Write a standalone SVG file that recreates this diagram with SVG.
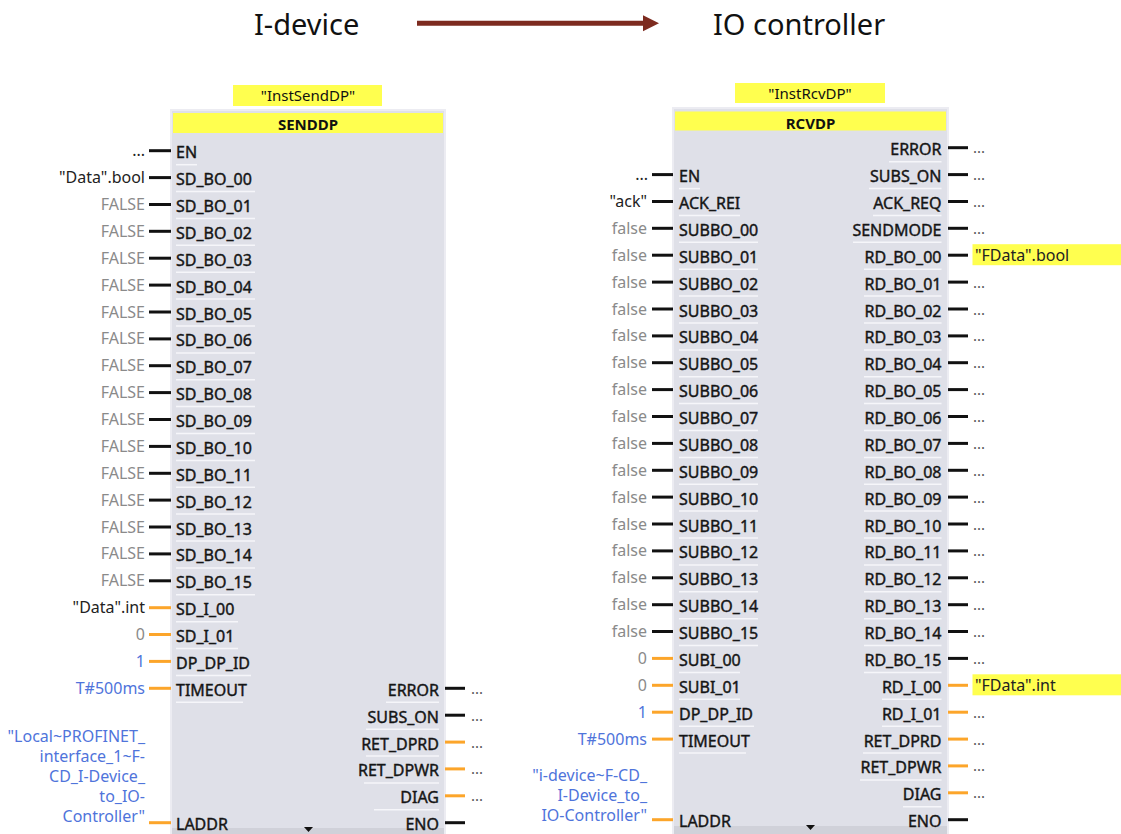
<svg xmlns="http://www.w3.org/2000/svg" width="1121" height="834" viewBox="0 0 1121 834">
<style>
text{font-family:"Noto Sans","Liberation Sans",sans-serif}
.title{font-size:29px;fill:#111}
.lbl{font-size:16px;fill:#151515;stroke:#151515;stroke-width:0.4}
.end{text-anchor:end}
.val{font-size:16px;text-anchor:end}
.dots{font-size:15px;fill:#555}
.gray{fill:#8a8a8a}
.blue{fill:#4f74db}
.dark{fill:#222}
.pb{stroke:#111;stroke-width:3}
.po{stroke:#fca52a;stroke-width:3}
.ul{stroke:#f6f6fa;stroke-width:1.5}
.box{fill:#dfe0e8;stroke:#ececf2;stroke-width:2}
.hdr{fill:#ffff4f}
.hdrt{font-size:15px;font-weight:bold;fill:#111;text-anchor:middle}
.inst{font-size:15px;fill:#111;text-anchor:middle}
.hl{fill:#ffff4f}
.strip{fill:#d0d1d9}
</style>

<g id="title-idevice"><text class="title" x="254" y="35">I-device</text></g>
<g id="title-iocontroller"><text class="title" x="713" y="35">IO controller</text></g>

<g id="connectors">
<line x1="417" y1="23.3" x2="645" y2="23.3" stroke="#7d2b1f" stroke-width="5"/>
<polygon points="643,15.3 659,23.3 643,31.3" fill="#7d2b1f"/>
</g>

<g id="senddp">
<rect class="hl" x="233" y="85" width="149" height="21"/>
<text class="inst" x="308" y="101">"InstSendDP"</text>
<rect class="box" x="171" y="110" width="274" height="730"/>
<rect class="hdr" x="173" y="113" width="270" height="20"/>
<text class="hdrt" x="308" y="130">SENDDP</text>
<rect class="strip" x="172" y="828" width="272" height="6"/>
<polygon points="304,827 313,827 308.5,832" fill="#111"/>

<g transform="translate(0,150.7)"><line class="pb" x1="149" y1="0" x2="171" y2="0"/><line class="ul" x1="176" y1="14" x2="197" y2="14"/><text class="lbl" x="176" y="7.5">EN</text><text class="val dark" x="145" y="5.5">...</text></g>
<g transform="translate(0,177.6)"><line class="pb" x1="149" y1="0" x2="171" y2="0"/><line class="ul" x1="176" y1="14" x2="255" y2="14"/><text class="lbl" x="176" y="7.5">SD_BO_00</text><text class="val dark" x="145" y="5.5">"Data".bool</text></g>
<g transform="translate(0,204.5)"><line class="pb" x1="149" y1="0" x2="171" y2="0"/><line class="ul" x1="176" y1="14" x2="255" y2="14"/><text class="lbl" x="176" y="7.5">SD_BO_01</text><text class="val gray" x="145" y="5.5">FALSE</text></g>
<g transform="translate(0,231.3)"><line class="pb" x1="149" y1="0" x2="171" y2="0"/><line class="ul" x1="176" y1="14" x2="255" y2="14"/><text class="lbl" x="176" y="7.5">SD_BO_02</text><text class="val gray" x="145" y="5.5">FALSE</text></g>
<g transform="translate(0,258.2)"><line class="pb" x1="149" y1="0" x2="171" y2="0"/><line class="ul" x1="176" y1="14" x2="255" y2="14"/><text class="lbl" x="176" y="7.5">SD_BO_03</text><text class="val gray" x="145" y="5.5">FALSE</text></g>
<g transform="translate(0,285.1)"><line class="pb" x1="149" y1="0" x2="171" y2="0"/><line class="ul" x1="176" y1="14" x2="255" y2="14"/><text class="lbl" x="176" y="7.5">SD_BO_04</text><text class="val gray" x="145" y="5.5">FALSE</text></g>
<g transform="translate(0,312)"><line class="pb" x1="149" y1="0" x2="171" y2="0"/><line class="ul" x1="176" y1="14" x2="255" y2="14"/><text class="lbl" x="176" y="7.5">SD_BO_05</text><text class="val gray" x="145" y="5.5">FALSE</text></g>
<g transform="translate(0,338.9)"><line class="pb" x1="149" y1="0" x2="171" y2="0"/><line class="ul" x1="176" y1="14" x2="255" y2="14"/><text class="lbl" x="176" y="7.5">SD_BO_06</text><text class="val gray" x="145" y="5.5">FALSE</text></g>
<g transform="translate(0,365.7)"><line class="pb" x1="149" y1="0" x2="171" y2="0"/><line class="ul" x1="176" y1="14" x2="255" y2="14"/><text class="lbl" x="176" y="7.5">SD_BO_07</text><text class="val gray" x="145" y="5.5">FALSE</text></g>
<g transform="translate(0,392.6)"><line class="pb" x1="149" y1="0" x2="171" y2="0"/><line class="ul" x1="176" y1="14" x2="255" y2="14"/><text class="lbl" x="176" y="7.5">SD_BO_08</text><text class="val gray" x="145" y="5.5">FALSE</text></g>
<g transform="translate(0,419.5)"><line class="pb" x1="149" y1="0" x2="171" y2="0"/><line class="ul" x1="176" y1="14" x2="255" y2="14"/><text class="lbl" x="176" y="7.5">SD_BO_09</text><text class="val gray" x="145" y="5.5">FALSE</text></g>
<g transform="translate(0,446.4)"><line class="pb" x1="149" y1="0" x2="171" y2="0"/><line class="ul" x1="176" y1="14" x2="255" y2="14"/><text class="lbl" x="176" y="7.5">SD_BO_10</text><text class="val gray" x="145" y="5.5">FALSE</text></g>
<g transform="translate(0,473.3)"><line class="pb" x1="149" y1="0" x2="171" y2="0"/><line class="ul" x1="176" y1="14" x2="255" y2="14"/><text class="lbl" x="176" y="7.5">SD_BO_11</text><text class="val gray" x="145" y="5.5">FALSE</text></g>
<g transform="translate(0,500.1)"><line class="pb" x1="149" y1="0" x2="171" y2="0"/><line class="ul" x1="176" y1="14" x2="255" y2="14"/><text class="lbl" x="176" y="7.5">SD_BO_12</text><text class="val gray" x="145" y="5.5">FALSE</text></g>
<g transform="translate(0,527)"><line class="pb" x1="149" y1="0" x2="171" y2="0"/><line class="ul" x1="176" y1="14" x2="255" y2="14"/><text class="lbl" x="176" y="7.5">SD_BO_13</text><text class="val gray" x="145" y="5.5">FALSE</text></g>
<g transform="translate(0,553.9)"><line class="pb" x1="149" y1="0" x2="171" y2="0"/><line class="ul" x1="176" y1="14" x2="255" y2="14"/><text class="lbl" x="176" y="7.5">SD_BO_14</text><text class="val gray" x="145" y="5.5">FALSE</text></g>
<g transform="translate(0,580.8)"><line class="pb" x1="149" y1="0" x2="171" y2="0"/><line class="ul" x1="176" y1="14" x2="255" y2="14"/><text class="lbl" x="176" y="7.5">SD_BO_15</text><text class="val gray" x="145" y="5.5">FALSE</text></g>
<g transform="translate(0,607.7)"><line class="po" x1="149" y1="0" x2="171" y2="0"/><line class="ul" x1="176" y1="14" x2="238" y2="14"/><text class="lbl" x="176" y="7.5">SD_I_00</text><text class="val dark" x="145" y="5.5">"Data".int</text></g>
<g transform="translate(0,634.5)"><line class="po" x1="149" y1="0" x2="171" y2="0"/><line class="ul" x1="176" y1="14" x2="238" y2="14"/><text class="lbl" x="176" y="7.5">SD_I_01</text><text class="val gray" x="145" y="5.5">0</text></g>
<g transform="translate(0,661.4)"><line class="po" x1="149" y1="0" x2="171" y2="0"/><line class="ul" x1="176" y1="14" x2="251" y2="14"/><text class="lbl" x="176" y="7.5">DP_DP_ID</text><text class="val blue" x="145" y="5.5">1</text></g>
<g transform="translate(0,688.3)"><line class="po" x1="149" y1="0" x2="171" y2="0"/><line class="ul" x1="176" y1="14" x2="243" y2="14"/><text class="lbl" x="176" y="7.5">TIMEOUT</text><text class="val blue" x="145" y="5.5">T#500ms</text></g>
<g transform="translate(0,822.7)"><line class="po" x1="149" y1="0" x2="171" y2="0"/><text class="lbl" x="176" y="7.5">LADDR</text></g>
<text class="val blue" x="145"><tspan x="145" y="742">"Local~PROFINET_</tspan><tspan x="145" y="762">interface_1~F-</tspan><tspan x="145" y="782">CD_I-Device_</tspan><tspan x="145" y="802">to_IO-</tspan><tspan x="145" y="822">Controller"</tspan></text>

<g transform="translate(0,688.3)"><line class="pb" x1="445" y1="0" x2="465" y2="0"/><line class="ul" x1="386" y1="14" x2="439" y2="14"/><text class="lbl end" x="439" y="7.5">ERROR</text><text class="dots" x="471" y="5.5">...</text></g>
<g transform="translate(0,715.2)"><line class="pb" x1="445" y1="0" x2="465" y2="0"/><line class="ul" x1="366" y1="14" x2="439" y2="14"/><text class="lbl end" x="439" y="7.5">SUBS_ON</text><text class="dots" x="471" y="5.5">...</text></g>
<g transform="translate(0,742.1)"><line class="po" x1="445" y1="0" x2="465" y2="0"/><line class="ul" x1="366" y1="14" x2="439" y2="14"/><text class="lbl end" x="439" y="7.5">RET_DPRD</text><text class="dots" x="471" y="5.5">...</text></g>
<g transform="translate(0,768.9)"><line class="po" x1="445" y1="0" x2="465" y2="0"/><line class="ul" x1="364" y1="14" x2="439" y2="14"/><text class="lbl end" x="439" y="7.5">RET_DPWR</text><text class="dots" x="471" y="5.5">...</text></g>
<g transform="translate(0,795.8)"><line class="po" x1="445" y1="0" x2="465" y2="0"/><line class="ul" x1="374" y1="14" x2="439" y2="14"/><text class="lbl end" x="439" y="7.5">DIAG</text><text class="dots" x="471" y="5.5">...</text></g>
<g transform="translate(0,822.7)"><line class="pb" x1="445" y1="0" x2="465" y2="0"/><text class="lbl end" x="439" y="7.5">ENO</text></g>
</g>

<g id="rcvdp">
<rect class="hl" x="735" y="83" width="150" height="20"/>
<text class="inst" x="810" y="99">"InstRcvDP"</text>
<rect class="box" x="673" y="108" width="275" height="730"/>
<rect class="hdr" x="675" y="111.5" width="271" height="19"/>
<text class="hdrt" x="810.5" y="128.5">RCVDP</text>
<rect class="strip" x="674" y="826" width="273" height="8"/>
<polygon points="806,825 815,825 810.5,830" fill="#111"/>

<g transform="translate(0,174.6)"><line class="pb" x1="652" y1="0" x2="673" y2="0"/><line class="ul" x1="679" y1="14" x2="700" y2="14"/><text class="lbl" x="679" y="7.5">EN</text><text class="val dark" x="648" y="5.5">...</text></g>
<g transform="translate(0,201.5)"><line class="pb" x1="652" y1="0" x2="673" y2="0"/><line class="ul" x1="679" y1="14" x2="740" y2="14"/><text class="lbl" x="679" y="7.5">ACK_REI</text><text class="val dark" x="647" y="5.5">"ack"</text></g>
<g transform="translate(0,228.3)"><line class="pb" x1="652" y1="0" x2="673" y2="0"/><line class="ul" x1="679" y1="14" x2="758" y2="14"/><text class="lbl" x="679" y="7.5">SUBBO_00</text><text class="val gray" x="647" y="5.5">false</text></g>
<g transform="translate(0,255.2)"><line class="pb" x1="652" y1="0" x2="673" y2="0"/><line class="ul" x1="679" y1="14" x2="758" y2="14"/><text class="lbl" x="679" y="7.5">SUBBO_01</text><text class="val gray" x="647" y="5.5">false</text></g>
<g transform="translate(0,282.1)"><line class="pb" x1="652" y1="0" x2="673" y2="0"/><line class="ul" x1="679" y1="14" x2="758" y2="14"/><text class="lbl" x="679" y="7.5">SUBBO_02</text><text class="val gray" x="647" y="5.5">false</text></g>
<g transform="translate(0,309)"><line class="pb" x1="652" y1="0" x2="673" y2="0"/><line class="ul" x1="679" y1="14" x2="758" y2="14"/><text class="lbl" x="679" y="7.5">SUBBO_03</text><text class="val gray" x="647" y="5.5">false</text></g>
<g transform="translate(0,335.9)"><line class="pb" x1="652" y1="0" x2="673" y2="0"/><line class="ul" x1="679" y1="14" x2="758" y2="14"/><text class="lbl" x="679" y="7.5">SUBBO_04</text><text class="val gray" x="647" y="5.5">false</text></g>
<g transform="translate(0,362.7)"><line class="pb" x1="652" y1="0" x2="673" y2="0"/><line class="ul" x1="679" y1="14" x2="758" y2="14"/><text class="lbl" x="679" y="7.5">SUBBO_05</text><text class="val gray" x="647" y="5.5">false</text></g>
<g transform="translate(0,389.6)"><line class="pb" x1="652" y1="0" x2="673" y2="0"/><line class="ul" x1="679" y1="14" x2="758" y2="14"/><text class="lbl" x="679" y="7.5">SUBBO_06</text><text class="val gray" x="647" y="5.5">false</text></g>
<g transform="translate(0,416.5)"><line class="pb" x1="652" y1="0" x2="673" y2="0"/><line class="ul" x1="679" y1="14" x2="758" y2="14"/><text class="lbl" x="679" y="7.5">SUBBO_07</text><text class="val gray" x="647" y="5.5">false</text></g>
<g transform="translate(0,443.4)"><line class="pb" x1="652" y1="0" x2="673" y2="0"/><line class="ul" x1="679" y1="14" x2="758" y2="14"/><text class="lbl" x="679" y="7.5">SUBBO_08</text><text class="val gray" x="647" y="5.5">false</text></g>
<g transform="translate(0,470.3)"><line class="pb" x1="652" y1="0" x2="673" y2="0"/><line class="ul" x1="679" y1="14" x2="758" y2="14"/><text class="lbl" x="679" y="7.5">SUBBO_09</text><text class="val gray" x="647" y="5.5">false</text></g>
<g transform="translate(0,497.1)"><line class="pb" x1="652" y1="0" x2="673" y2="0"/><line class="ul" x1="679" y1="14" x2="758" y2="14"/><text class="lbl" x="679" y="7.5">SUBBO_10</text><text class="val gray" x="647" y="5.5">false</text></g>
<g transform="translate(0,524)"><line class="pb" x1="652" y1="0" x2="673" y2="0"/><line class="ul" x1="679" y1="14" x2="758" y2="14"/><text class="lbl" x="679" y="7.5">SUBBO_11</text><text class="val gray" x="647" y="5.5">false</text></g>
<g transform="translate(0,550.9)"><line class="pb" x1="652" y1="0" x2="673" y2="0"/><line class="ul" x1="679" y1="14" x2="758" y2="14"/><text class="lbl" x="679" y="7.5">SUBBO_12</text><text class="val gray" x="647" y="5.5">false</text></g>
<g transform="translate(0,577.8)"><line class="pb" x1="652" y1="0" x2="673" y2="0"/><line class="ul" x1="679" y1="14" x2="758" y2="14"/><text class="lbl" x="679" y="7.5">SUBBO_13</text><text class="val gray" x="647" y="5.5">false</text></g>
<g transform="translate(0,604.7)"><line class="pb" x1="652" y1="0" x2="673" y2="0"/><line class="ul" x1="679" y1="14" x2="758" y2="14"/><text class="lbl" x="679" y="7.5">SUBBO_14</text><text class="val gray" x="647" y="5.5">false</text></g>
<g transform="translate(0,631.5)"><line class="pb" x1="652" y1="0" x2="673" y2="0"/><line class="ul" x1="679" y1="14" x2="758" y2="14"/><text class="lbl" x="679" y="7.5">SUBBO_15</text><text class="val gray" x="647" y="5.5">false</text></g>
<g transform="translate(0,658.4)"><line class="po" x1="652" y1="0" x2="673" y2="0"/><line class="ul" x1="679" y1="14" x2="740" y2="14"/><text class="lbl" x="679" y="7.5">SUBI_00</text><text class="val gray" x="647" y="5.5">0</text></g>
<g transform="translate(0,685.3)"><line class="po" x1="652" y1="0" x2="673" y2="0"/><line class="ul" x1="679" y1="14" x2="740" y2="14"/><text class="lbl" x="679" y="7.5">SUBI_01</text><text class="val gray" x="647" y="5.5">0</text></g>
<g transform="translate(0,712.2)"><line class="po" x1="652" y1="0" x2="673" y2="0"/><line class="ul" x1="679" y1="14" x2="754" y2="14"/><text class="lbl" x="679" y="7.5">DP_DP_ID</text><text class="val blue" x="647" y="5.5">1</text></g>
<g transform="translate(0,739.1)"><line class="po" x1="652" y1="0" x2="673" y2="0"/><line class="ul" x1="679" y1="14" x2="746" y2="14"/><text class="lbl" x="679" y="7.5">TIMEOUT</text><text class="val blue" x="647" y="5.5">T#500ms</text></g>
<g transform="translate(0,819.7)"><line class="po" x1="652" y1="0" x2="673" y2="0"/><text class="lbl" x="679" y="7.5">LADDR</text></g>
<text class="val blue" x="647"><tspan x="647" y="781">"i-device~F-CD_</tspan><tspan x="647" y="801">I-Device_to_</tspan><tspan x="647" y="821">IO-Controller"</tspan></text>

<g transform="translate(0,147.7)"><line class="pb" x1="948" y1="0" x2="968" y2="0"/><line class="ul" x1="889" y1="14" x2="941.5" y2="14"/><text class="lbl end" x="941.5" y="7.5">ERROR</text><text class="dots" x="973" y="5.5">...</text></g>
<g transform="translate(0,174.6)"><line class="pb" x1="948" y1="0" x2="968" y2="0"/><line class="ul" x1="869" y1="14" x2="941.5" y2="14"/><text class="lbl end" x="941.5" y="7.5">SUBS_ON</text><text class="dots" x="973" y="5.5">...</text></g>
<g transform="translate(0,201.5)"><line class="pb" x1="948" y1="0" x2="968" y2="0"/><line class="ul" x1="873" y1="14" x2="941.5" y2="14"/><text class="lbl end" x="941.5" y="7.5">ACK_REQ</text><text class="dots" x="973" y="5.5">...</text></g>
<g transform="translate(0,228.3)"><line class="pb" x1="948" y1="0" x2="968" y2="0"/><line class="ul" x1="853" y1="14" x2="941.5" y2="14"/><text class="lbl end" x="941.5" y="7.5">SENDMODE</text><text class="dots" x="973" y="5.5">...</text></g>
<g transform="translate(0,255.2)"><line class="pb" x1="948" y1="0" x2="968" y2="0"/><line class="ul" x1="864" y1="14" x2="941.5" y2="14"/><text class="lbl end" x="941.5" y="7.5">RD_BO_00</text><rect class="hl" x="972.5" y="-11" width="149" height="21"/><text class="val dark" x="975" y="5.5" style="text-anchor:start">"FData".bool</text></g>
<g transform="translate(0,282.1)"><line class="pb" x1="948" y1="0" x2="968" y2="0"/><line class="ul" x1="864" y1="14" x2="941.5" y2="14"/><text class="lbl end" x="941.5" y="7.5">RD_BO_01</text><text class="dots" x="973" y="5.5">...</text></g>
<g transform="translate(0,309)"><line class="pb" x1="948" y1="0" x2="968" y2="0"/><line class="ul" x1="864" y1="14" x2="941.5" y2="14"/><text class="lbl end" x="941.5" y="7.5">RD_BO_02</text><text class="dots" x="973" y="5.5">...</text></g>
<g transform="translate(0,335.9)"><line class="pb" x1="948" y1="0" x2="968" y2="0"/><line class="ul" x1="864" y1="14" x2="941.5" y2="14"/><text class="lbl end" x="941.5" y="7.5">RD_BO_03</text><text class="dots" x="973" y="5.5">...</text></g>
<g transform="translate(0,362.7)"><line class="pb" x1="948" y1="0" x2="968" y2="0"/><line class="ul" x1="864" y1="14" x2="941.5" y2="14"/><text class="lbl end" x="941.5" y="7.5">RD_BO_04</text><text class="dots" x="973" y="5.5">...</text></g>
<g transform="translate(0,389.6)"><line class="pb" x1="948" y1="0" x2="968" y2="0"/><line class="ul" x1="864" y1="14" x2="941.5" y2="14"/><text class="lbl end" x="941.5" y="7.5">RD_BO_05</text><text class="dots" x="973" y="5.5">...</text></g>
<g transform="translate(0,416.5)"><line class="pb" x1="948" y1="0" x2="968" y2="0"/><line class="ul" x1="864" y1="14" x2="941.5" y2="14"/><text class="lbl end" x="941.5" y="7.5">RD_BO_06</text><text class="dots" x="973" y="5.5">...</text></g>
<g transform="translate(0,443.4)"><line class="pb" x1="948" y1="0" x2="968" y2="0"/><line class="ul" x1="864" y1="14" x2="941.5" y2="14"/><text class="lbl end" x="941.5" y="7.5">RD_BO_07</text><text class="dots" x="973" y="5.5">...</text></g>
<g transform="translate(0,470.3)"><line class="pb" x1="948" y1="0" x2="968" y2="0"/><line class="ul" x1="864" y1="14" x2="941.5" y2="14"/><text class="lbl end" x="941.5" y="7.5">RD_BO_08</text><text class="dots" x="973" y="5.5">...</text></g>
<g transform="translate(0,497.1)"><line class="pb" x1="948" y1="0" x2="968" y2="0"/><line class="ul" x1="864" y1="14" x2="941.5" y2="14"/><text class="lbl end" x="941.5" y="7.5">RD_BO_09</text><text class="dots" x="973" y="5.5">...</text></g>
<g transform="translate(0,524)"><line class="pb" x1="948" y1="0" x2="968" y2="0"/><line class="ul" x1="864" y1="14" x2="941.5" y2="14"/><text class="lbl end" x="941.5" y="7.5">RD_BO_10</text><text class="dots" x="973" y="5.5">...</text></g>
<g transform="translate(0,550.9)"><line class="pb" x1="948" y1="0" x2="968" y2="0"/><line class="ul" x1="864" y1="14" x2="941.5" y2="14"/><text class="lbl end" x="941.5" y="7.5">RD_BO_11</text><text class="dots" x="973" y="5.5">...</text></g>
<g transform="translate(0,577.8)"><line class="pb" x1="948" y1="0" x2="968" y2="0"/><line class="ul" x1="864" y1="14" x2="941.5" y2="14"/><text class="lbl end" x="941.5" y="7.5">RD_BO_12</text><text class="dots" x="973" y="5.5">...</text></g>
<g transform="translate(0,604.7)"><line class="pb" x1="948" y1="0" x2="968" y2="0"/><line class="ul" x1="864" y1="14" x2="941.5" y2="14"/><text class="lbl end" x="941.5" y="7.5">RD_BO_13</text><text class="dots" x="973" y="5.5">...</text></g>
<g transform="translate(0,631.5)"><line class="pb" x1="948" y1="0" x2="968" y2="0"/><line class="ul" x1="864" y1="14" x2="941.5" y2="14"/><text class="lbl end" x="941.5" y="7.5">RD_BO_14</text><text class="dots" x="973" y="5.5">...</text></g>
<g transform="translate(0,658.4)"><line class="pb" x1="948" y1="0" x2="968" y2="0"/><line class="ul" x1="864" y1="14" x2="941.5" y2="14"/><text class="lbl end" x="941.5" y="7.5">RD_BO_15</text><text class="dots" x="973" y="5.5">...</text></g>
<g transform="translate(0,685.3)"><line class="po" x1="948" y1="0" x2="968" y2="0"/><line class="ul" x1="882" y1="14" x2="941.5" y2="14"/><text class="lbl end" x="941.5" y="7.5">RD_I_00</text><rect class="hl" x="972.5" y="-11" width="149" height="21"/><text class="val dark" x="975" y="5.5" style="text-anchor:start">"FData".int</text></g>
<g transform="translate(0,712.2)"><line class="po" x1="948" y1="0" x2="968" y2="0"/><line class="ul" x1="882" y1="14" x2="941.5" y2="14"/><text class="lbl end" x="941.5" y="7.5">RD_I_01</text><text class="dots" x="973" y="5.5">...</text></g>
<g transform="translate(0,739.1)"><line class="po" x1="948" y1="0" x2="968" y2="0"/><line class="ul" x1="863" y1="14" x2="941.5" y2="14"/><text class="lbl end" x="941.5" y="7.5">RET_DPRD</text><text class="dots" x="973" y="5.5">...</text></g>
<g transform="translate(0,765.9)"><line class="po" x1="948" y1="0" x2="968" y2="0"/><line class="ul" x1="860" y1="14" x2="941.5" y2="14"/><text class="lbl end" x="941.5" y="7.5">RET_DPWR</text><text class="dots" x="973" y="5.5">...</text></g>
<g transform="translate(0,792.8)"><line class="po" x1="948" y1="0" x2="968" y2="0"/><line class="ul" x1="903" y1="14" x2="941.5" y2="14"/><text class="lbl end" x="941.5" y="7.5">DIAG</text><text class="dots" x="973" y="5.5">...</text></g>
<g transform="translate(0,819.7)"><line class="pb" x1="948" y1="0" x2="968" y2="0"/><text class="lbl end" x="941.5" y="7.5">ENO</text></g>
</g>
</svg>
